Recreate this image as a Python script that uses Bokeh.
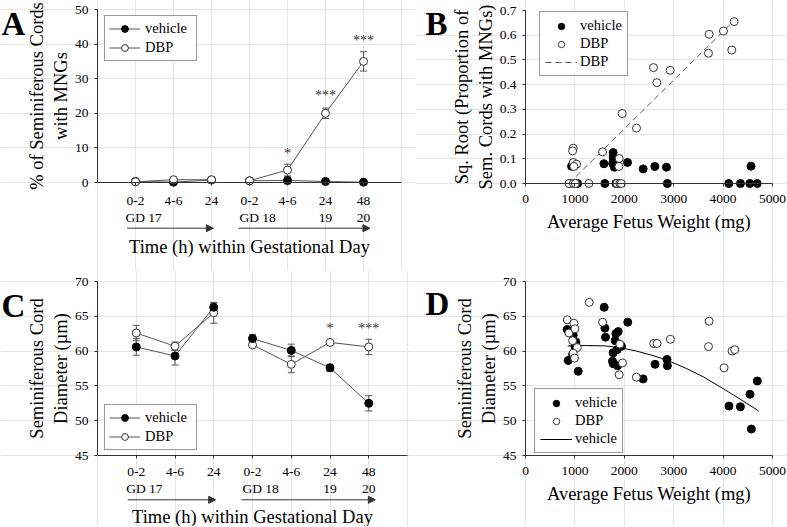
from bokeh.plotting import figure
from bokeh.layouts import column, row
from bokeh.models import (ColumnDataSource, Whisker, TeeHead, Label, LabelSet, Arrow, NormalHead,
                          FixedTicker, Legend, LegendItem, Range1d, NumeralTickFormatter, LinearAxis)
from bokeh.embed import file_html
from bokeh.resources import INLINE

FONT = "Liberation Serif"

# ---------------- data ----------------
tp_labels = ["0-2", "4-6", "24", "0-2", "4-6", "24", "48"]
tp_pos = [1, 2, 3, 4, 5, 6, 7]
day_labels = ["GD 17", "GD 18", "19", "20"]
day_pos = [1, 4, 6, 7]

# Panel A: % of seminiferous cords with MNGs
a_vehicle = [0.3, 0.1, 0.7, 0.5, 0.6, 0.3, 0.1]
a_vehicle_err = [0.2, 0.2, 0.2, 0.2, 1.0, 0.2, 0.1]
a_dbp = [0.2, 0.8, 0.8, 0.5, 3.6, 20.0, 35.0]
a_dbp_err = [0.2, 0.3, 0.3, 0.2, 1.7, 1.5, 2.8]
a_star_x = [5, 6, 7]
a_star_y = [8.5, 25.2, 40.9]
a_star_text = ["*", "***", "***"]

# Panel C: seminiferous cord diameter (um)
c_vehicle = [60.6, 59.3, 66.3, 61.8, 60.1, 57.6, 52.5]
c_vehicle_err = [1.2, 1.3, 0.6, 0.6, 0.9, 0.5, 1.1]
c_dbp = [62.6, 60.7, 65.5, 60.9, 58.1, 61.25, 60.6]
c_dbp_err = [1.1, 0.6, 1.5, 0.3, 1.2, 0.2, 1.1]
c_star_x = [6, 7]
c_star_y = [63.2, 63.2]
c_star_text = ["*", "***"]

# Panel B: sqrt(proportion of cords with MNGs) vs fetus weight
b_veh_w = [933, 900, 1054, 1587, 1607, 1775, 1776, 1780, 1770, 1767, 1800, 1845,
           1830, 1890, 2065, 2382, 2618, 2854, 2872, 4115, 4351, 4540, 4690, 4565]
b_veh_v = [0.070, 0.0, 0.0, 0.080, 0.0, 0.125, 0.109, 0.096, 0.085, 0.080, 0.066, 0.085,
           0.0, 0.0, 0.085, 0.059, 0.069, 0.066, 0.0, 0.0, 0.0, 0.0, 0.0, 0.070]
b_dbp_w = [966, 953, 966, 1034, 980, 880, 970, 1010, 1283, 1560, 1897, 1890, 1850,
           1910, 1940, 1958, 2247, 2591, 2659, 2929, 3704, 3717, 4007, 4176, 4223]
b_dbp_v = [0.143, 0.132, 0.085, 0.078, 0.069, 0.0, 0.0, 0.0, 0.0, 0.128, 0.101, 0.069, 0.0,
           0.0, 0.0, 0.283, 0.224, 0.469, 0.408, 0.458, 0.527, 0.604, 0.617, 0.540, 0.655]
b_fit_w = [880, 4210]
b_fit_v = [0.0, 0.657]

# Panel D: cord diameter vs fetus weight
d_veh_w = [845, 966, 1020, 1000, 953, 865, 1067, 1593, 1607, 1620, 1829, 1876, 1815, 1943,
           1855, 1774, 1761, 1775, 1862, 2070, 2380, 2622, 2865, 2872, 4120, 4350, 4545, 4572, 4693]
d_veh_v = [63.1, 62.3, 61.3, 60.7, 59.5, 58.65, 57.1, 66.3, 63.3, 62.0, 62.5, 62.8, 61.5, 60.7,
           60.2, 59.75, 58.55, 58.2, 57.9, 64.15, 56.0, 58.1, 58.8, 57.9, 52.1, 52.0, 53.8, 48.8, 55.7]
d_dbp_w = [845, 879, 980, 1000, 953, 1047, 966, 993, 1290, 1560, 1910, 1963, 1897, 2245,
           2596, 2663, 2933, 3717, 3704, 4020, 4182, 4236]
d_dbp_v = [64.5, 62.6, 64.0, 63.2, 61.5, 60.5, 59.7, 59.0, 67.0, 64.15, 61.0, 58.3, 56.6, 56.25,
           61.1, 61.1, 61.7, 64.3, 60.65, 57.6, 60.0, 60.2]
d_fit_w = [852, 1236, 1600, 1910, 2250, 2584, 2900, 3258, 3600, 3933, 4300, 4720]
d_fit_v = [60.75, 60.8, 60.75, 60.5, 60.0, 59.35, 58.6, 57.5, 56.3, 54.9, 53.3, 51.4]

AX = "#333333"
LN = "#555555"
MS = 8


class Frame:
    """Maps an axes box (pixels inside a figure) to data ranges covering the whole figure."""
    def __init__(self, w, h, l, r, t, b, x0, x1, y0, y1):
        self.w, self.h = w, h
        self.x0, self.x1, self.y0, self.y1 = x0, x1, y0, y1
        self.kx = (x1 - x0) / (r - l)
        self.ky = (y1 - y0) / (b - t)
        self.xs = x0 - l * self.kx
        self.xe = x0 + (w - l) * self.kx
        self.ys = y0 - (h - b) * self.ky
        self.ye = y0 + b * self.ky

    def x(self, px):
        return self.xs + px * self.kx

    def y(self, py):
        return self.ye - py * self.ky


def style_axis(ax):
    ax.axis_line_color = AX
    ax.major_tick_line_color = AX
    ax.minor_tick_line_color = None
    ax.major_tick_in = 0
    ax.major_tick_out = 3
    ax.major_label_text_font = FONT
    ax.major_label_text_font_size = "13.5px"
    ax.major_label_text_color = "black"
    ax.axis_label_text_font = FONT
    ax.axis_label_text_font_size = "18.5px"
    ax.axis_label_text_font_style = "normal"
    ax.axis_label_text_color = "black"


def make_fig(fr, xticks, yticks, xlabel, ylabel, xstand, xlabstand):
    p = figure(width=fr.w, height=fr.h, x_range=Range1d(fr.xs, fr.xe), y_range=Range1d(fr.ys, fr.ye),
               x_axis_location=None, y_axis_location=None,
               output_backend="svg", toolbar_location=None,
               min_border_left=0, min_border_right=0, min_border_top=0, min_border_bottom=0)
    p.outline_line_color = None
    p.background_fill_color = "white"
    p.border_fill_color = "white"
    xa = LinearAxis(fixed_location=fr.y0, bounds=(fr.x0, fr.x1), ticker=FixedTicker(ticks=xticks),
                    axis_label=xlabel)
    ya = LinearAxis(fixed_location=fr.x0, bounds=(fr.y0, fr.y1), ticker=FixedTicker(ticks=yticks),
                    axis_label=ylabel)
    style_axis(xa)
    style_axis(ya)
    xa.major_label_standoff = xstand
    xa.axis_label_standoff = xlabstand
    ya.major_label_standoff = 6
    ya.axis_label_standoff = 1
    p.add_layout(xa, "below")
    p.add_layout(ya, "left")
    return p, xa, ya


def style_legend(leg, rows3):
    leg.border_line_color = AX
    leg.border_line_width = 1
    leg.background_fill_alpha = 1
    leg.label_text_font = FONT
    leg.label_text_font_size = "14.5px"
    leg.label_text_color = "black"
    leg.margin = 0
    if rows3:
        leg.glyph_width = 32
        leg.glyph_height = 16
        leg.label_height = 16
        leg.label_width = 40
        leg.label_standoff = 3
        leg.spacing = 1
        leg.padding = 5
    else:
        leg.glyph_width = 31
        leg.glyph_height = 17
        leg.label_height = 17
        leg.label_width = 47
        leg.label_standoff = 5
        leg.spacing = 2
        leg.padding = 4


def letter(p, fr, text, px, py_base):
    p.add_layout(Label(x=fr.x(px), y=fr.y(py_base), text=text, text_font=FONT, text_font_size="33px",
                       text_font_style="bold", text_color="black", text_baseline="alphabetic",
                       text_align="left"))


def timecourse(p, fr, veh, veh_err, dbp, dbp_err, stars, dbp_on_top, row2_py, arrow_py, legend_loc):
    segs = [slice(0, 3), slice(3, 7)]
    veh_lines, dbp_lines = [], []
    for sl in segs:
        veh_lines.append(p.line(tp_pos[sl], veh[sl], line_color=LN, line_width=1))
        dbp_lines.append(p.line(tp_pos[sl], dbp[sl], line_color=LN, line_width=1))
    for vals, errs in ((veh, veh_err), (dbp, dbp_err)):
        src = ColumnDataSource(dict(x=tp_pos,
                                    upper=[v + e for v, e in zip(vals, errs)],
                                    lower=[v - e for v, e in zip(vals, errs)]))
        p.add_layout(Whisker(source=src, base="x", upper="upper", lower="lower",
                             line_color=LN, line_width=1,
                             upper_head=TeeHead(size=7, line_color=LN, line_width=1),
                             lower_head=TeeHead(size=7, line_color=LN, line_width=1)))

    def draw_veh():
        return p.scatter(tp_pos, veh, size=MS, fill_color="black", line_color="black")

    def draw_dbp():
        return p.scatter(tp_pos, dbp, size=MS, fill_color="white", line_color=AX, line_width=1)

    if dbp_on_top:
        sv = draw_veh(); sd = draw_dbp()
    else:
        sd = draw_dbp(); sv = draw_veh()

    sx, sy, st = stars
    p.add_layout(LabelSet(x="x", y="y", text="t",
                          source=ColumnDataSource(dict(x=sx, y=sy, t=st)),
                          text_font=FONT, text_font_size="14px", text_align="center",
                          text_baseline="middle", text_color="#333333"))

    xa = p.xaxis[0]
    xa.major_label_overrides = {k: v for k, v in zip(tp_pos, tp_labels)}

    # second label row (gestational day)
    for pos, lab in zip(day_pos, day_labels):
        align = "left" if lab.startswith("GD") else "center"
        off = -10 if align == "left" else 0
        p.add_layout(Label(x=pos, y=fr.y(row2_py), text=lab, x_offset=off, text_align=align,
                           text_baseline="middle", text_font=FONT, text_font_size="13.5px",
                           text_color="black"))
    # day arrows
    for (x0, x1) in ((tp_pos[0] - 0.22, tp_pos[2] + 0.05), (tp_pos[3] - 0.29, tp_pos[6] + 0.17)):
        p.add_layout(Arrow(x_start=x0, y_start=fr.y(arrow_py), x_end=x1, y_end=fr.y(arrow_py),
                           line_color=AX, line_width=1,
                           end=NormalHead(size=7, fill_color=AX, line_color=AX, line_width=1)))

    leg = Legend(items=[LegendItem(label="vehicle", renderers=[veh_lines[0], sv]),
                        LegendItem(label="DBP", renderers=[dbp_lines[0], sd])],
                 location=legend_loc)
    style_legend(leg, False)
    p.add_layout(leg)


TOP_H, BOT_H = 270, 256
LEFT_W, RIGHT_W = 415, 371

# ---------------- Panel A ----------------
frA = Frame(LEFT_W, TOP_H, 97, 401, 9, 182, 0, 8, 0, 50)
pA, _, _ = make_fig(frA, tp_pos, [0, 10, 20, 30, 40, 50], "Time (h) within Gestational Day",
                    "% of Seminiferous Cords\nwith MNGs", 11, 29)
timecourse(pA, frA, a_vehicle, a_vehicle_err, a_dbp, a_dbp_err,
           (a_star_x, a_star_y, a_star_text), True, 217, 227.7, (104, TOP_H - 61))
letter(pA, frA, "A", 1, 23.5)

# ---------------- Panel C ----------------
frC = Frame(LEFT_W, BOT_H, 97, 407, 11, 185, 0, 8, 45, 70)
pC, _, _ = make_fig(frC, tp_pos, [45, 50, 55, 60, 65, 70], "Time (h) within Gestational Day",
                    "Seminiferous Cord\nDiameter (µm)", 9, 28)
timecourse(pC, frC, c_vehicle, c_vehicle_err, c_dbp, c_dbp_err,
           (c_star_x, c_star_y, c_star_text), False, 218.3, 229.3, (104, BOT_H - 179.7))
letter(pC, frC, "C", 1, 35)

# ---------------- Panel B ----------------
frB = Frame(RIGHT_W, TOP_H, 110, 357, 10, 183, 0, 5000, 0, 0.7)
pB, _, yaB = make_fig(frB, [0, 1000, 2000, 3000, 4000, 5000], [0, 0.1, 0.2, 0.3, 0.4, 0.5, 0.6, 0.7],
                      "Average Fetus Weight (mg)", "Sq. Root (Proportion of\nSem. Cords with MNGs)", 8, 6)
yaB.formatter = NumeralTickFormatter(format="0.0")
bfit = pB.line(b_fit_w, b_fit_v, line_color=LN, line_width=1, line_dash="6 4")
bv = pB.scatter(b_veh_w, b_veh_v, size=MS, fill_color="black", line_color="black")
bd = pB.scatter(b_dbp_w, b_dbp_v, size=MS, fill_color="white", line_color=AX, line_width=1)
legB = Legend(items=[LegendItem(label="vehicle", renderers=[bv]),
                     LegendItem(label="DBP", renderers=[bd]),
                     LegendItem(label="DBP", renderers=[bfit])], location=(124, TOP_H - 76))
style_legend(legB, True)
pB.add_layout(legB)
letter(pB, frB, "B", 10, 23.5)

# ---------------- Panel D ----------------
frD = Frame(RIGHT_W, BOT_H, 110, 357, 11, 185, 0, 5000, 45, 70)
pD, _, _ = make_fig(frD, [0, 1000, 2000, 3000, 4000, 5000], [45, 50, 55, 60, 65, 70],
                    "Average Fetus Weight (mg)", "Seminiferous Cord\nDiameter (µm)", 8, 6)
dfit = pD.line(d_fit_w, d_fit_v, line_color="black", line_width=1)
dv = pD.scatter(d_veh_w, d_veh_v, size=MS, fill_color="black", line_color="black")
dd = pD.scatter(d_dbp_w, d_dbp_v, size=MS, fill_color="white", line_color=AX, line_width=1)
legD = Legend(items=[LegendItem(label="vehicle", renderers=[dv]),
                     LegendItem(label="DBP", renderers=[dd]),
                     LegendItem(label="vehicle", renderers=[dfit])], location=(119, BOT_H - 183.3))
style_legend(legD, True)
pD.add_layout(legD)
letter(pD, frD, "D", 10, 33.5)

layout = column(row(pA, pB), row(pC, pD))
open("out.html", "w").write(file_html(layout, INLINE, title="figure"))
